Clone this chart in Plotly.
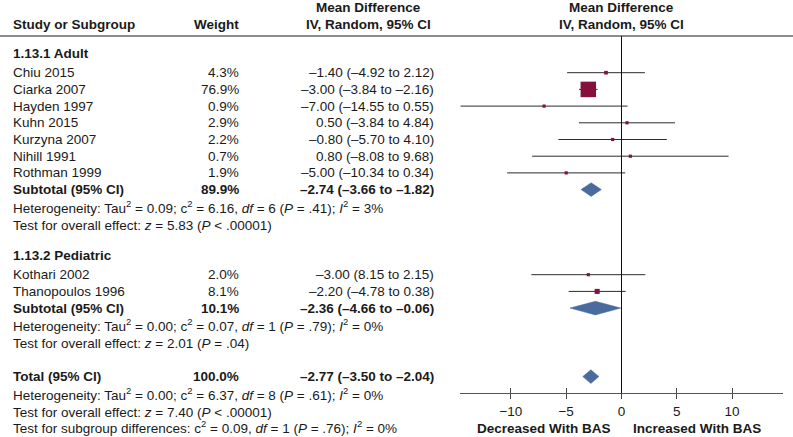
import plotly.graph_objects as go

# ---------------- data ----------------
adult_names = ["Chiu 2015", "Ciarka 2007", "Hayden 1997", "Kuhn 2015",
               "Kurzyna 2007", "Nihill 1991", "Rothman 1999"]
adult_weight = [4.3, 76.9, 0.9, 2.9, 2.2, 0.7, 1.9]
adult_md = [-1.40, -3.00, -7.00, 0.50, -0.80, 0.80, -5.00]
adult_lo = [-4.92, -3.84, -14.55, -3.84, -5.70, -8.08, -10.34]
adult_hi = [2.12, -2.16, 0.55, 4.84, 4.10, 9.68, 0.34]
adult_ci_text = ["–1.40 (–4.92 to 2.12)", "–3.00 (–3.84 to –2.16)",
                 "–7.00 (–14.55 to 0.55)", "0.50 (–3.84 to 4.84)",
                 "–0.80 (–5.70 to 4.10)", "0.80 (–8.08 to 9.68)",
                 "–5.00 (–10.34 to 0.34)"]

ped_names = ["Kothari 2002", "Thanopoulos 1996"]
ped_weight = [2.0, 8.1]
ped_md = [-3.00, -2.20]
ped_lo = [-8.15, -4.78]
ped_hi = [2.15, 0.38]
ped_ci_text = ["–3.00 (8.15 to 2.15)", "–2.20 (–4.78 to 0.38)"]

summary_names = ["Subtotal (95% CI)", "Subtotal (95% CI)", "Total (95% CI)"]
summary_weight = [89.9, 10.1, 100.0]
summary_md = [-2.74, -2.36, -2.77]
summary_lo = [-3.66, -4.66, -3.50]
summary_hi = [-1.82, -0.06, -2.04]
summary_ci_text = ["–2.74 (–3.66 to –1.82)", "–2.36 (–4.66 to –0.06)",
                   "–2.77 (–3.50 to –2.04)"]

group_titles = ["1.13.1 Adult", "1.13.2 Pediatric"]
adult_notes = [
    "Heterogeneity: Tau<sup>2</sup> = 0.09; c<sup>2</sup> = 6.16, <i>df</i> = 6 (<i>P</i> = .41); <i>I</i><sup>2</sup> = 3%",
    "Test for overall effect: <i>z</i> = 5.83 (<i>P</i> &lt; .00001)",
]
ped_notes = [
    "Heterogeneity: Tau<sup>2</sup> = 0.00; c<sup>2</sup> = 0.07, <i>df</i> = 1 (<i>P</i> = .79); <i>I</i><sup>2</sup> = 0%",
    "Test for overall effect: <i>z</i> = 2.01 (<i>P</i> = .04)",
]
total_notes = [
    "Heterogeneity: Tau<sup>2</sup> = 0.00; c<sup>2</sup> = 6.37, <i>df</i> = 8 (<i>P</i> = .61); <i>I</i><sup>2</sup> = 0%",
    "Test for overall effect: <i>z</i> = 7.40 (<i>P</i> &lt; .00001)",
    "Test for subgroup differences: c<sup>2</sup> = 0.09, <i>df</i> = 1 (<i>P</i> = .76); <i>I</i><sup>2</sup> = 0%",
]
tick_vals = [-10, -5, 0, 5, 10]
x_titles = ["Decreased With BAS", "Increased With BAS"]

# ---------------- layout helpers ----------------
W, H = 793, 437
AXIS_Y = 393.3          # pixel row of x axis
HEADER_Y = 36           # header rule
STEP = 16.7
SUP_SHIFT = 1.8         # superscripts enlarge the text box; pull such lines up
FONT = "Liberation Sans, Arial, sans-serif"
FS = 13.5
TXT = "#1a1a1a"
SQ_COLOR = "#85103c"
DIA_COLOR = "#4a6b9d"
X_NAME, X_WEIGHT, X_CI = 10.5, 240.5, 435.5
PLOT_L, PLOT_R = 460, 783
XR = [-14.6, 14.6]

# row positions (pixels from top)
y_adult_title = 53.3
y_adult = [72.7 + i * STEP for i in range(len(adult_names))]
y_sub1 = y_adult[-1] + STEP
y_adult_notes = [y_sub1 + 19.0, y_sub1 + 19.0 + STEP]
y_ped_title = 255
y_ped = [274.7 + i * STEP for i in range(len(ped_names))]
y_sub2 = y_ped[-1] + STEP
y_ped_notes = [y_sub2 + 19.0, y_sub2 + 19.0 + STEP]
y_total = 376.6
y_total_notes = [y_total + 19.0 + i * STEP for i in range(len(total_notes))]
summary_y = [y_sub1, y_sub2, y_total]

fig = go.Figure()

annotations = []


def txt(x, y, s, anchor="left", bold=False, size=FS):
    if "<sup>" in s:
        y = y - SUP_SHIFT
    annotations.append(dict(
        x=x / W, xref="paper", y=y, yref="y", text=(f"<b>{s}</b>" if bold else s),
        showarrow=False, xanchor=anchor, yanchor="middle",
        font=dict(family=FONT, size=size, color=TXT), align=anchor))


# headers
txt(X_NAME, 24, "Study or Subgroup", bold=True)
txt(X_WEIGHT, 24, "Weight", anchor="right", bold=True)
txt(368, 7.5, "Mean Difference", anchor="center", bold=True)
txt(368, 24, "IV, Random, 95% CI", anchor="center", bold=True)
txt(621.5, 7.5, "Mean Difference", anchor="center", bold=True)
txt(621.5, 24, "IV, Random, 95% CI", anchor="center", bold=True)

# groups
txt(X_NAME, y_adult_title, group_titles[0], bold=True)
txt(X_NAME, y_ped_title, group_titles[1], bold=True)

for names, ws, cis, ys in [(adult_names, adult_weight, adult_ci_text, y_adult),
                           (ped_names, ped_weight, ped_ci_text, y_ped)]:
    for n, w, c, y in zip(names, ws, cis, ys):
        txt(X_NAME, y, n)
        txt(X_WEIGHT, y, f"{w:.1f}%", anchor="right")
        txt(X_CI, y, c, anchor="right")

for n, w, c, y in zip(summary_names, summary_weight, summary_ci_text, summary_y):
    txt(X_NAME, y, n, bold=True)
    txt(X_WEIGHT, y, f"{w:.1f}%", anchor="right", bold=True)
    txt(X_CI, y, c, anchor="right", bold=True)

for notes, ys in [(adult_notes, y_adult_notes), (ped_notes, y_ped_notes),
                  (total_notes, y_total_notes)]:
    for s, y in zip(notes, ys):
        txt(X_NAME, y, s)

# axis titles
txt(543.3, 428.5, x_titles[0], anchor="center", bold=True)
txt(696.7, 428.5, x_titles[1], anchor="center", bold=True)

# ---------------- marks ----------------
all_md = adult_md + ped_md
all_lo = adult_lo + ped_lo
all_hi = adult_hi + ped_hi
all_w = adult_weight + ped_weight
all_y = y_adult + y_ped

cx, cy = [], []
for lo, hi, y in zip(all_lo, all_hi, all_y):
    cx += [lo, hi, None]
    cy += [y, y, None]
fig.add_trace(go.Scatter(x=cx, y=cy, mode="lines",
                         line=dict(color="#2b2b2b", width=1), hoverinfo="skip",
                         showlegend=False))

max_w = max(all_w)
sizes = [max(3.2, 15.5 * (w / max_w) ** 0.5) for w in all_w]
fig.add_trace(go.Scatter(x=all_md, y=all_y, mode="markers",
                         marker=dict(symbol="square", size=sizes, color=SQ_COLOR,
                                     opacity=1, line=dict(width=0)),
                         opacity=1, showlegend=False))

HALF = 6.8
for m, lo, hi, y in zip(summary_md, summary_lo, summary_hi, summary_y):
    fig.add_trace(go.Scatter(x=[lo, m, hi, m, lo], y=[y, y - HALF, y, y + HALF, y],
                             mode="lines", fill="toself", fillcolor=DIA_COLOR,
                             line=dict(color=DIA_COLOR, width=0.5),
                             showlegend=False, hoverinfo="skip"))

# dummy trace for overlay axis (inward ticks)
fig.add_trace(go.Scatter(x=[0], y=[AXIS_Y], xaxis="x2", yaxis="y", mode="markers",
                         marker=dict(opacity=0), showlegend=False, hoverinfo="skip"))

shapes = [
    dict(type="line", xref="paper", yref="y", x0=0, x1=1, y0=HEADER_Y, y1=HEADER_Y,
         line=dict(color="#8c8c8c", width=2)),
    dict(type="line", xref="x", yref="y", x0=0, x1=0, y0=HEADER_Y, y1=AXIS_Y,
         line=dict(color="#111111", width=1)),
]

axis_pos = (H - AXIS_Y) / H
fig.update_layout(
    width=W, height=H,
    margin=dict(l=0, r=0, t=0, b=0, autoexpand=False),
    paper_bgcolor="white", plot_bgcolor="white",
    xaxis=dict(domain=[PLOT_L / W, PLOT_R / W], range=XR, tickvals=tick_vals,
               ticks="outside", ticklen=5, tickcolor="#444", tickwidth=1,
               showline=True, linecolor="#555", linewidth=1.2, showgrid=False,
               zeroline=False, anchor="free", position=axis_pos,
               tickfont=dict(family=FONT, size=FS, color=TXT)),
    xaxis2=dict(domain=[PLOT_L / W, PLOT_R / W], range=XR, tickvals=tick_vals,
                ticks="inside", ticklen=5, tickcolor="#444", tickwidth=1,
                showticklabels=False, showline=False, showgrid=False,
                zeroline=False, anchor="free", position=axis_pos,
                overlaying="x", side="bottom"),
    yaxis=dict(domain=[0, 1], range=[H, 0], visible=False,
               showgrid=False, zeroline=False),
    shapes=shapes,
    annotations=annotations,
    showlegend=False,
)

fig.write_html("out.html", config={"displayModeBar": False},
               post_script="document.body.style.margin='0';document.body.style.padding='0';")
